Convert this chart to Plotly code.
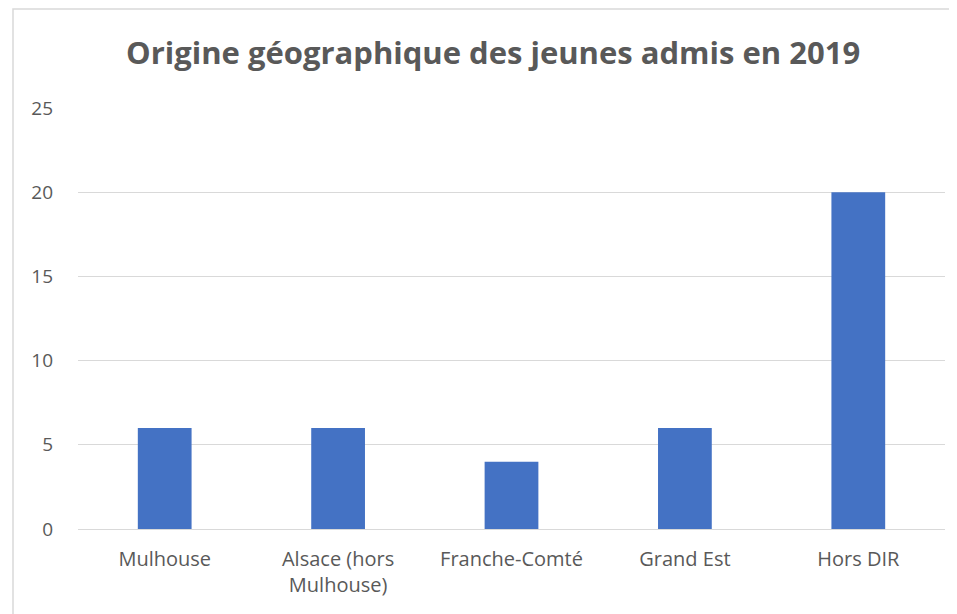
import plotly.graph_objects as go

categories = ["Mulhouse", "Alsace (hors<br>Mulhouse)", "Franche-Comté", "Grand Est", "Hors DIR"]
values = [6, 6, 4, 6, 20]
y_ticks = [0, 5, 10, 15, 20, 25]
title_text = "Origine géographique des jeunes admis en 2019"

OFF = 8  # page body margin
W, H = 957 - OFF, 614 - OFF
L, R, T, B = 78 - OFF, 12, 108 - OFF, 85
pw, ph = W - L - R, H - T - B

def px_x(x):
    return (x - OFF - L) / pw

def px_y(y):
    return (H - B - (y - OFF)) / ph

fig = go.Figure(go.Bar(x=categories, y=values, marker=dict(color="#4472C4", line=dict(width=0)), hoverinfo="x+y"))

fig.update_layout(
    width=W, height=H,
    margin=dict(l=L, r=R, t=T, b=B),
    paper_bgcolor="white", plot_bgcolor="white",
    bargap=0.69,
    showlegend=False,
    font=dict(family="Open Sans, sans-serif", size=16, color="#595959"),
    xaxis=dict(showgrid=False, showline=True, linecolor="#d9d9d9", linewidth=1, ticks="",
               tickfont=dict(size=20, color="#595959"), ticklabelstandoff=12, fixedrange=True),
    yaxis=dict(range=[0, 25], tickvals=y_ticks, showgrid=True, gridcolor="#d9d9d9", gridwidth=1,
               zeroline=False, showline=False, ticks="", tickfont=dict(size=19, color="#595959"),
               ticklabelstandoff=24, fixedrange=True),
    annotations=[dict(text="<b>" + title_text + "</b>", xref="paper", yref="paper",
                      x=px_x(493), y=px_y(52), xanchor="center", yanchor="middle",
                      showarrow=False, font=dict(size=31, color="#595959"))],
    shapes=[dict(type="rect", xref="paper", yref="paper",
                 x0=px_x(13), x1=px_x(990), y0=px_y(640), y1=px_y(9),
                 line=dict(color="#d9d9d9", width=1.5), fillcolor="rgba(0,0,0,0)", layer="below")],
)

fig.write_html("out.html")
